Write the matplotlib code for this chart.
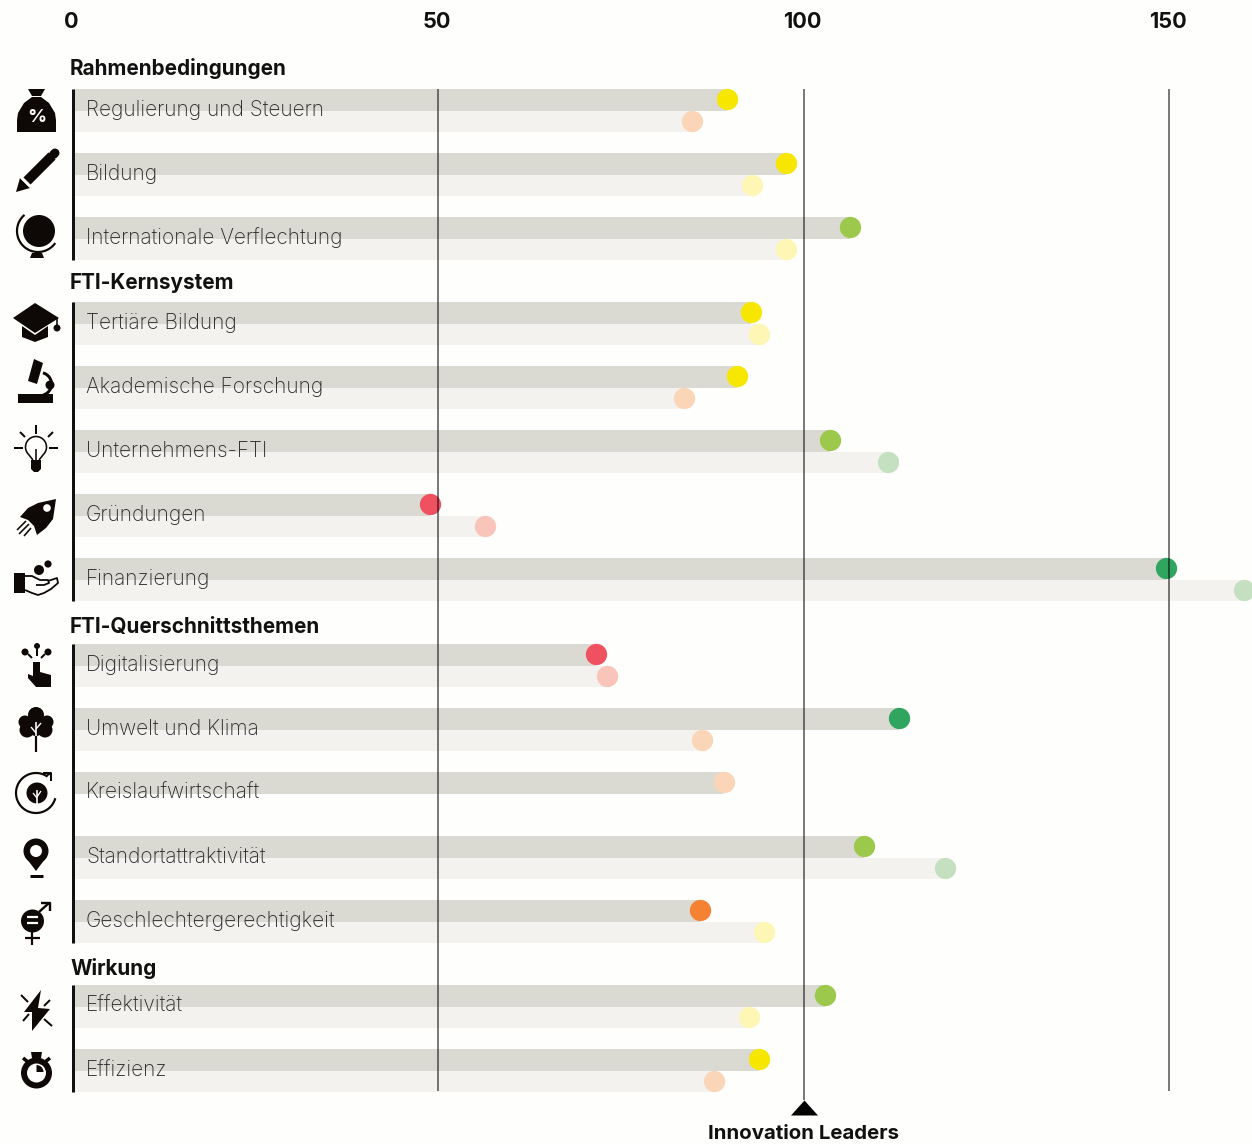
import numpy as np
import matplotlib
matplotlib.use('Agg')
import matplotlib.pyplot as plt
from matplotlib.patches import Circle, Polygon, Wedge

groups = ['Rahmenbedingungen', 'FTI-Kernsystem', 'FTI-Querschnittsthemen', 'Wirkung']
group_sizes = [3, 5, 5, 2]
labels = ['Regulierung und Steuern', 'Bildung', 'Internationale Verflechtung',
          'Tertiäre Bildung', 'Akademische Forschung', 'Unternehmens-FTI', 'Gründungen', 'Finanzierung',
          'Digitalisierung', 'Umwelt und Klima', 'Kreislaufwirtschaft', 'Standortattraktivität',
          'Geschlechtergerechtigkeit',
          'Effektivität', 'Effizienz']
current = [89.5, 97.6, 106.4, 92.8, 90.9, 103.6, 48.9, 149.6, 71.6, 113.0, 89.1, 108.3, 85.8, 102.9, 93.9]
previous = [84.7, 93.0, 97.6, 93.9, 83.7, 111.6, 56.4, 160.3, 73.1, 86.1, None, 119.4, 94.6, 92.5, 87.7]

YELLOW, GREEN, DARK_GREEN, RED, ORANGE = '#f7e600', '#9cc84b', '#2fa55f', '#ef5160', '#f58233'
L_YELLOW, L_GREEN, L_RED, PEACH = '#fdf6b4', '#c5e0c0', '#f9c4ba', '#fbd5b8'
current_colors = [YELLOW, YELLOW, GREEN, YELLOW, YELLOW, GREEN, RED, DARK_GREEN,
                  RED, DARK_GREEN, PEACH, GREEN, ORANGE, GREEN, YELLOW]
previous_colors = [PEACH, L_YELLOW, L_YELLOW, L_YELLOW, PEACH, L_GREEN, L_RED, L_GREEN,
                   L_RED, PEACH, None, L_GREEN, L_YELLOW, L_YELLOW, PEACH]
ticks = [0, 50, 100, 150]

BG = '#fefefc'
INK = '#0e0806'
plt.rcParams['font.family'] = ['Inter', 'DejaVu Sans']

fig = plt.figure(figsize=(12.52, 11.44), dpi=100, facecolor=BG)

# x axis in index points, y axis in pixels from the top
ax = fig.add_axes([0, 0, 1, 1])
ax.set_xlim(-72.6 / 7.31, (1252 - 72.6) / 7.31)
ax.set_ylim(1144, 0)
ax.axis('off')

# second layer in plain pixels for the icons
ic = fig.add_axes([0, 0, 1, 1])
ic.set_xlim(0, 1252)
ic.set_ylim(1144, 0)
ic.axis('off')
ic.patch.set_alpha(0)

px = 0.72  # one pixel in points

row_tops = []
y = 89
for size in group_sizes:
    start = y
    for i in range(size):
        row_tops.append(y)
        y += 64
    # black spine of the group
    ax.plot([0, 0], [start, y - 64 + 43], color='#111111', lw=3 * px, solid_capstyle='butt', zorder=5)
    y += 21.4
row_tops = np.round(row_tops)

heading_base = [75, 289, 633, 975]
for name, base in zip(groups, heading_base):
    ax.text(-0.35, base, name, fontsize=14.9, fontweight='bold', color='#111111', va='baseline')

for i, label in enumerate(labels):
    top = row_tops[i]
    ax.barh(top + 11, current[i], height=22, color='#dadad2', zorder=1, linewidth=0)
    ax.scatter(current[i], top + 10, s=235, color=current_colors[i], linewidths=0, zorder=3)
    if previous[i] is not None:
        ax.barh(top + 32, previous[i], height=21, color='#f3f2ef', zorder=1, linewidth=0)
        ax.scatter(previous[i], top + 31.5, s=235, color=previous_colors[i], linewidths=0, zorder=2)
    ax.text(1.85, top + 26.7, label, fontsize=15, fontweight='light', color='#2c2c2c', va='baseline', zorder=6)

for t in ticks:
    ax.text(t - 0.2, 21.5, str(t), fontsize=15.6, fontweight='bold', color='#111111', ha='center', va='center')
    if t > 0:
        bottom = 1100 if t == 100 else 1091
        ax.plot([t, t], [89, bottom], color='#000000', alpha=0.6, lw=1.7 * px, solid_capstyle='butt', zorder=4)

ax.text(100, 1134, 'Innovation Leaders', fontsize=14.7, fontweight='bold', color='#111111', ha='center', va='center')


def poly(pts, color=INK, z=2):
    ic.add_patch(Polygon(pts, closed=True, facecolor=color, edgecolor='none', zorder=z))


def disc(x, y, r, color=INK, z=2):
    ic.add_patch(Circle((x, y), r, facecolor=color, edgecolor='none', zorder=z))


def line(pts, w=2, color=INK, z=2, cap='butt'):
    xs, ys = zip(*pts)
    ic.plot(xs, ys, color=color, lw=w * px, solid_capstyle=cap, zorder=z)


def arc(x, y, r, a1, a2, w=2, color=INK, z=2):
    t = np.radians(np.linspace(a1, a2, 60))
    ic.plot(x + r * np.cos(t), y - r * np.sin(t), color=color, lw=w * px, solid_capstyle='butt', zorder=z)


# marker under the 100 line
poly([(791, 1115.5), (804.5, 1100.5), (818, 1115.5)], color='#000000')

# money bag
poly([(28, 89), (45, 89), (41, 96), (32, 96)])
poly([(32, 97), (41, 97), (49, 103), (55, 113), (56, 120), (56, 132), (17, 132), (17, 120), (18, 113), (24, 103)])
ic.text(36.5, 117, '%', fontsize=13.5, fontweight='bold', color='white', ha='center', va='center', zorder=3)

# pencil
line([(27, 181), (52, 156)], w=10)
line([(53.5, 154.5), (55, 153)], w=9, cap='round')
poly([(16, 192), (20, 178), (24, 182), (30, 188)])
line([(21, 178), (30, 187)], w=1.6, color='white', z=3)

# globe
disc(39, 231, 16)
arc(38, 231, 21, 130, 325, w=2.2)
line([(37, 251), (37, 254)], w=4)
poly([(32, 253), (42, 253), (44, 258), (30, 258)])

# graduation cap
poly([(13, 318), (35, 303), (59, 318), (35, 333)])
poly([(22, 326), (35, 335), (48, 326), (48, 337), (35, 342), (22, 337)])
line([(57, 318), (57, 326)], w=1.6)
disc(57, 328, 3.5)

# microscope
poly([(18, 394), (53, 394), (53, 403), (18, 403)])
poly([(34, 359), (43, 363), (37, 384), (28, 381)])
arc(40, 384, 11.5, -75, 75, w=3)
disc(50, 385, 4.5)

# light bulb
arc(36, 447, 10.5, -50, 230, w=1.6)
line([(29, 455), (33, 460)], w=1.6)
line([(43, 455), (39, 460)], w=1.6)
line([(36, 449), (36, 461)], w=1.6)
poly([(31, 460), (41, 460), (41, 469), (38, 472), (34, 472), (31, 469)])
line([(36, 425), (36, 434)], w=2)
line([(14, 448), (23, 448)], w=2)
line([(49, 448), (58, 448)], w=2)
line([(20, 432), (25, 437)], w=2)
line([(53, 432), (48, 437)], w=2)

# rocket
poly([(38, 503), (56, 499), (53, 519), (46, 528), (37, 535), (34, 526), (28, 520), (20, 517), (28, 508)])
disc(47, 508, 3.8, color='white', z=3)
line([(17, 530), (26, 521)], w=1.6)
line([(19, 534), (29, 524)], w=1.6)
line([(24, 536), (31, 528)], w=1.6)

# hand with coins
poly([(14, 573), (25, 573), (25, 593), (14, 593)])
disc(39, 570, 5)
disc(48, 564, 3.6)
line([(25, 576), (32, 576), (40, 580), (48, 580), (49, 583), (44, 585), (36, 585)], w=1.8)
line([(25, 590), (32, 593), (38, 595), (44, 593), (51, 589), (58, 583), (57, 578), (48, 581)], w=1.8)

# touch gesture
disc(37, 646, 3)
disc(25, 652, 3.5)
disc(48, 652, 3.5)
line([(37, 649), (37, 656)], w=2)
line([(28, 654), (32, 658)], w=2)
line([(45, 654), (41, 658)], w=2)
poly([(33, 662), (40, 662), (40, 672), (51, 675), (51, 687), (36, 687), (28, 678), (28, 674), (33, 676)])

# tree
for cx, cy, r in [(36, 715, 8), (25, 722, 6.5), (47, 722, 6.5), (27, 730, 7.5), (45, 730, 7.5), (36, 727, 9)]:
    disc(cx, cy, r)
line([(36, 733), (36, 752)], w=2.2)
line([(36, 736), (36, 722)], w=1.6, color='white', z=3)
line([(36, 729), (41, 723)], w=1.4, color='white', z=3)
line([(36, 733), (31, 727)], w=1.4, color='white', z=3)

# circular economy
arc(36, 793, 20, 55, 345, w=2.2)
line([(43, 773), (51, 773), (51, 781)], w=2)
line([(46, 776), (51, 773)], w=2)
disc(37, 793, 10.5)
line([(37, 805), (37, 790)], w=1.6, color='white', z=3)
line([(37, 797), (41, 791)], w=1.3, color='white', z=3)
line([(37, 798), (33, 793)], w=1.3, color='white', z=3)

# location pin
disc(36, 851, 12.5)
poly([(25.5, 857), (46.5, 857), (36, 871)])
disc(36, 851, 6, color='white', z=3)
line([(30, 876), (43, 876)], w=3)

# gender symbol
disc(32.5, 921, 11.5)
line([(27, 917), (38, 917)], w=2.2, color='white', z=3)
line([(27, 923), (38, 923)], w=2.2, color='white', z=3)
line([(39, 912), (49, 903)], w=2.4)
line([(41, 902.5), (50, 902.5), (50, 911)], w=2.4)
line([(32, 932), (32, 945)], w=2.2)
line([(25, 938), (40, 938)], w=2.2)

# lightning
poly([(41, 990), (24, 1012), (32, 1012), (32, 1031), (50, 1009), (38, 1008)])
line([(21, 995), (28, 1002)], w=2)
line([(50, 1000), (44, 1006)], w=2)
line([(23, 1021), (29, 1014)], w=2)
line([(52, 1026), (44, 1019)], w=2)

# stopwatch
disc(36.5, 1073, 15.5)
disc(36.5, 1073, 9.5, color='white', z=3)
ic.add_patch(Wedge((36.5, 1072), 7, 270, 360, facecolor=INK, edgecolor='none', zorder=4))
poly([(31, 1052), (42, 1052), (41, 1058), (32, 1058)])
line([(23, 1058), (28, 1062)], w=3.5)
line([(50, 1058), (45, 1062)], w=3.5)

fig.savefig('out.png', dpi=100, facecolor=BG)
